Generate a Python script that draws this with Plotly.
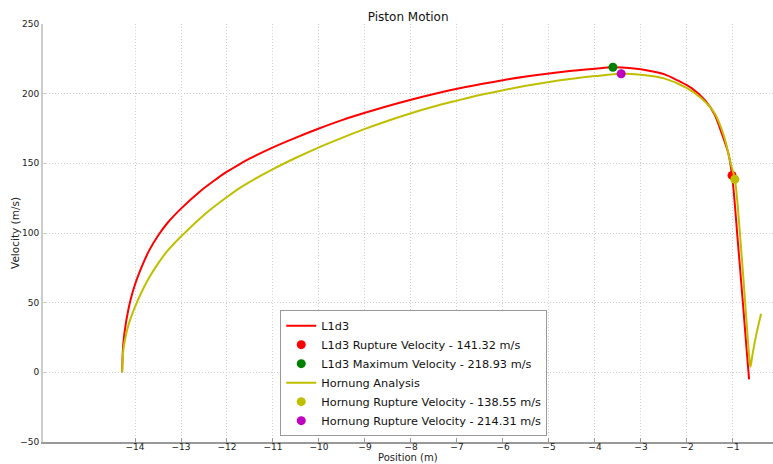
import plotly.graph_objects as go

# L1d3 simulation curve
l1d3_x = [-14.28, -14.27, -14.25, -14.2, -14.15, -14.1, -14.0, -13.85, -13.7, -13.5, -13.3, -13.0,
          -12.6, -12.26, -12.0, -11.72, -11.5, -11.0, -10.5, -10.0, -9.5, -9.0, -8.5, -8.0,
          -7.5, -7.0, -6.5, -6.0, -5.5, -5.0, -4.5, -4.0, -3.61, -3.2, -2.8, -2.5, -2.2,
          -1.9, -1.6, -1.4, -1.25, -1.1, -1.02, -0.9, -0.78, -0.7, -0.65]
l1d3_v = [0, 11, 22, 35, 44, 51.5, 63, 76, 87, 98, 107, 117.5,
          129.5, 138, 144, 149.5, 153.5, 161.5, 168.5, 175, 181, 186.3, 191.2, 195.7,
          199.8, 203.5, 206.7, 209.7, 212.3, 214.5, 216.4, 217.9, 218.93, 218.2, 216.3, 214, 209.5,
          204, 195, 185, 172, 157, 141.32, 96, 48, 15, -5]

# Hornung analysis curve
horn_x = [-14.28, -14.27, -14.25, -14.22, -14.15, -14.07, -14.0, -13.85, -13.71, -13.5, -13.3,
          -13.0, -12.5, -12.0, -11.65, -11.0, -10.5, -10.0, -9.5, -9.0, -8.5, -8.0, -7.5,
          -7.0, -6.5, -6.0, -5.5, -5.0, -4.5, -4.0, -3.43, -3.0, -2.5, -2.0, -1.7, -1.4, -1.2,
          -1.05, -0.96, -0.85, -0.72, -0.65, -0.62, -0.58, -0.5, -0.39]
horn_v = [0, 9, 17, 23, 33, 41, 47, 58, 67, 78, 87,
          97.5, 113, 125.8, 133.8, 145.8, 154, 161.5, 168.3, 174.7, 180.6, 186, 190.8,
          195, 199, 202.5, 205.7, 208.4, 210.7, 212.6, 214.31, 213.6, 211, 204, 197, 186, 170,
          150, 138.55, 100, 43, 12, 4, 12, 26, 42]

# Highlighted points
l1d3_rupture = (-1.02, 141.32)
l1d3_max = (-3.61, 218.93)
horn_rupture = (-0.96, 138.55)
horn_max = (-3.43, 214.31)

x_ticks = list(range(-14, 0))
y_ticks = list(range(-50, 251, 50))

fig = go.Figure()
fig.add_trace(go.Scatter(x=l1d3_x, y=l1d3_v, mode="lines", name="L1d3",
                         line=dict(color="#ff0000", width=2, shape="spline", smoothing=1)))
fig.add_trace(go.Scatter(x=[l1d3_rupture[0]], y=[l1d3_rupture[1]], mode="markers",
                         name="L1d3 Rupture Velocity - 141.32 m/s",
                         marker=dict(color="#ff0000", size=9)))
fig.add_trace(go.Scatter(x=[l1d3_max[0]], y=[l1d3_max[1]], mode="markers",
                         name="L1d3 Maximum Velocity - 218.93 m/s",
                         marker=dict(color="#008000", size=9)))
fig.add_trace(go.Scatter(x=horn_x, y=horn_v, mode="lines", name="Hornung Analysis",
                         line=dict(color="#bfbf00", width=2, shape="spline", smoothing=1)))
fig.add_trace(go.Scatter(x=[horn_rupture[0]], y=[horn_rupture[1]], mode="markers",
                         name="Hornung Rupture Velocity - 138.55 m/s",
                         marker=dict(color="#bfbf00", size=9)))
fig.add_trace(go.Scatter(x=[horn_max[0]], y=[horn_max[1]], mode="markers",
                         name="Hornung Rupture Velocity - 214.31 m/s",
                         marker=dict(color="#bf00bf", size=9)))

fig.update_layout(
    width=773, height=464,
    margin=dict(l=43, r=0, t=24, b=22),
    paper_bgcolor="white", plot_bgcolor="white",
    font=dict(family="DejaVu Sans", size=9, color="#222"),
    title=dict(text="Piston Motion", x=0.528, xanchor="center", y=0.963, yanchor="middle",
               font=dict(size=12, color="#111")),
    showlegend=True,
    legend=dict(x=0.325, y=0.014, xanchor="left", yanchor="bottom",
                bgcolor="white", bordercolor="#999", borderwidth=1,
                font=dict(size=11.3, color="#111"), tracegroupgap=0),
    annotations=[
        dict(text="Position (m)", xref="paper", yref="paper", x=0.5, y=-0.038,
             xanchor="center", yanchor="middle", showarrow=False,
             font=dict(size=10, color="#222")),
        dict(text="Velocity (m/s)", xref="paper", yref="paper", x=-0.0384, y=0.5,
             xanchor="center", yanchor="middle", textangle=-90, showarrow=False,
             font=dict(size=10.5, color="#222")),
    ],
)
fig.update_xaxes(range=[-16, -0.13], tickvals=x_ticks, showgrid=True,
                 gridcolor="#cfcfcf", griddash="1px,2px", gridwidth=1,
                 showline=True, linecolor="#999", linewidth=2, zeroline=False,
                 ticks="inside", ticklen=4, tickcolor="#999", automargin=False,
                 ticklabelstandoff=-5)
fig.update_yaxes(range=[-50, 250], tickvals=y_ticks, showgrid=True,
                 gridcolor="#cfcfcf", griddash="1px,2px", gridwidth=1,
                 showline=True, linecolor="#ccc", linewidth=2, zeroline=False,
                 ticks="inside", ticklen=4, tickcolor="#ccc", automargin=False)

fig.write_html("out.html")
